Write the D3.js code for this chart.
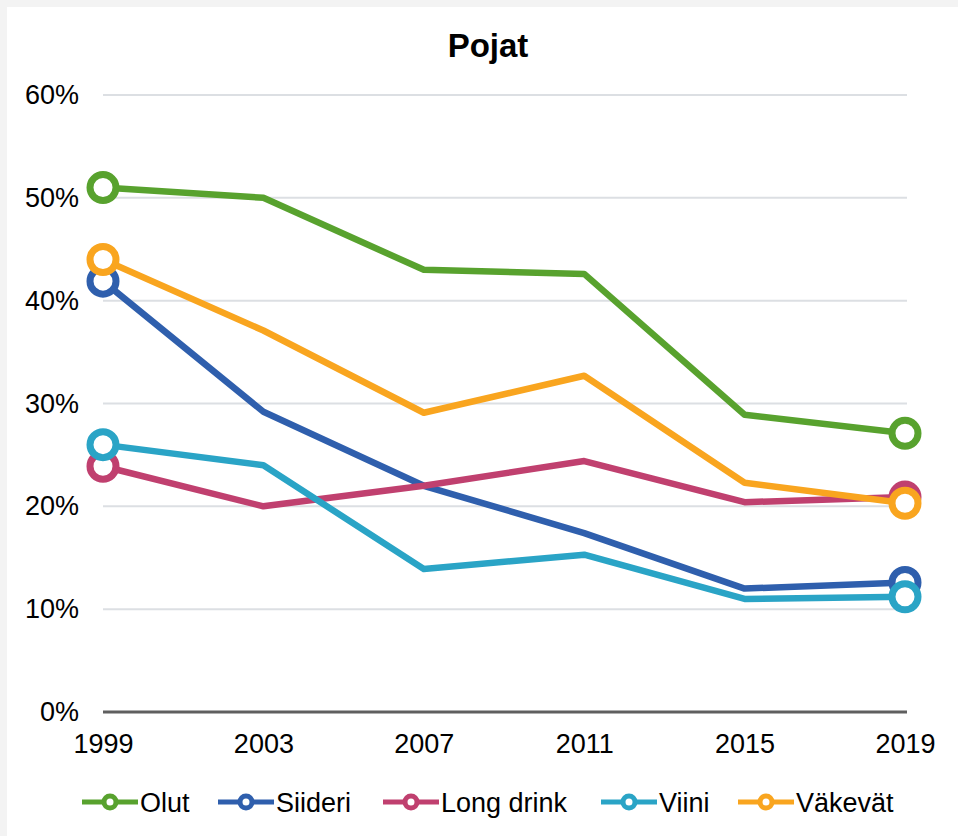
<!DOCTYPE html>
<html lang="fi">
<head>
<meta charset="UTF-8">
<title>Pojat</title>
<style>
    body { margin: 0; background: #f3f3f3; }
    svg { display: block; font-family: "Liberation Sans", Arial, sans-serif; }
</style>
</head>
<body>
<svg id="chart" width="958" height="836"></svg>
<script src="https://d3js.org/d3.v7.min.js"></script>
<script>
    // data
    const years = ["1999", "2003", "2007", "2011", "2015", "2019"];
    const yTicks = [0, 10, 20, 30, 40, 50, 60];

    const olut      = [51.0, 50.0, 43.0, 42.6, 28.9, 27.1];
    const siideri   = [41.9, 29.2, 22.0, 17.4, 12.0, 12.6];
    const longDrink = [23.9, 20.0, 22.0, 24.4, 20.4, 20.9];
    const viini     = [26.0, 24.0, 13.9, 15.3, 11.0, 11.2];
    const vakevat   = [44.0, 37.1, 29.1, 32.7, 22.3, 20.3];

    const seriesNames = ["Olut", "Siideri", "Long drink", "Viini", "Väkevät"];
    const seriesValues = [olut, siideri, longDrink, viini, vakevat];
    const colors = ["#58a22e", "#2f5fad", "#c0406f", "#2aa4c6", "#f9a51f"];

    const svg = d3.select("#chart");
    svg.append("rect").attr("x", 7).attr("y", 7).attr("width", 951).attr("height", 829).attr("fill", "#fff");

    const x = d3.scalePoint().domain(years).range([103, 905]);
    const y = d3.scaleLinear().domain([0, 60]).range([712, 95]);

    // title
    svg.append("text")
        .attr("x", 488).attr("y", 57)
        .attr("text-anchor", "middle")
        .attr("font-size", 33).attr("font-weight", "bold")
        .text("Pojat");

    // gridlines
    svg.append("g")
        .selectAll("line")
        .data(yTicks.filter(d => d > 0))
        .enter().append("line")
        .attr("x1", 103).attr("x2", 907)
        .attr("y1", d => y(d)).attr("y2", d => y(d))
        .attr("stroke", "#dcdfe3").attr("stroke-width", 2);

    // y axis labels
    const yAxis = svg.append("g")
        .attr("transform", "translate(79,0)")
        .call(d3.axisLeft(y).tickValues(yTicks).tickFormat(d => d + "%").tickSize(0).tickPadding(0));
    yAxis.select(".domain").remove();
    yAxis.selectAll("text").attr("font-size", 27).attr("fill", "#000").attr("font-family", "Liberation Sans, Arial, sans-serif");

    // x axis
    svg.append("line")
        .attr("x1", 103).attr("x2", 907)
        .attr("y1", y(0)).attr("y2", y(0))
        .attr("stroke", "#5f5f5f").attr("stroke-width", 3);
    const xAxis = svg.append("g")
        .attr("transform", `translate(0,${y(0) + 22})`)
        .call(d3.axisBottom(x).tickSize(0).tickPadding(0));
    xAxis.select(".domain").remove();
    xAxis.selectAll("text").attr("font-size", 27).attr("fill", "#000").attr("font-family", "Liberation Sans, Arial, sans-serif");

    // lines and markers
    const line = d3.line()
        .x((d, i) => x(years[i]))
        .y(d => y(d));

    seriesValues.forEach((vals, k) => {
        const g = svg.append("g");
        g.append("path")
            .datum(vals)
            .attr("d", line)
            .attr("fill", "none")
            .attr("stroke", colors[k])
            .attr("stroke-width", 6.5)
            .attr("stroke-linejoin", "round");
        g.selectAll("circle")
            .data([0, vals.length - 1])
            .enter().append("circle")
            .attr("cx", i => x(years[i]))
            .attr("cy", i => y(vals[i]))
            .attr("r", 13)
            .attr("fill", "#fff")
            .attr("stroke", colors[k])
            .attr("stroke-width", 7);
    });

    // legend
    const legendX = [82, 218, 383, 601, 738];
    const legend = svg.append("g");
    seriesNames.forEach((name, k) => {
        const lg = legend.append("g").attr("transform", `translate(${legendX[k]},802)`);
        lg.append("line")
            .attr("x1", 0).attr("x2", 56)
            .attr("stroke", colors[k]).attr("stroke-width", 5);
        lg.append("circle")
            .attr("cx", 28).attr("r", 6)
            .attr("fill", "#fff")
            .attr("stroke", colors[k]).attr("stroke-width", 5);
        lg.append("text")
            .attr("x", 58).attr("y", 10)
            .attr("font-size", 27)
            .text(name);
    });
</script>
</body>
</html>
